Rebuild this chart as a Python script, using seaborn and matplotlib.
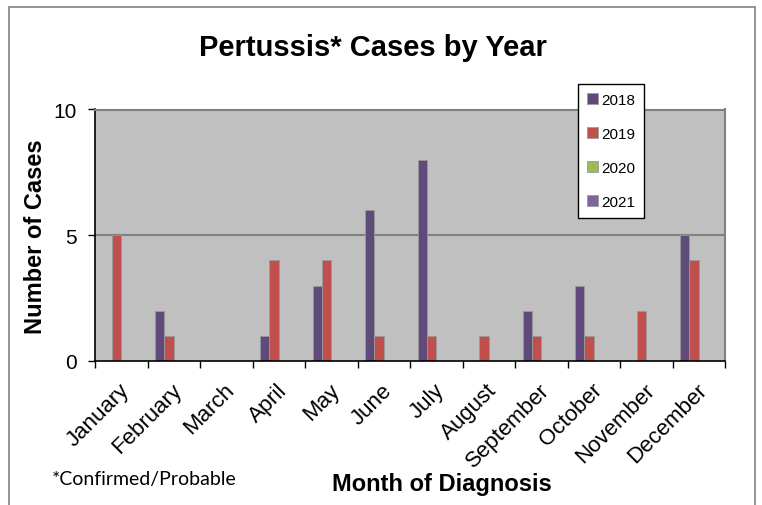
import matplotlib
matplotlib.use("Agg")
import matplotlib.pyplot as plt
import matplotlib.patches as mpatches
import seaborn as sns
import pandas as pd

months = ["January", "February", "March", "April", "May", "June", "July",
          "August", "September", "October", "November", "December"]
years = ["2018", "2019", "2020", "2021"]
cases_2018 = [0, 2, 0, 1, 3, 6, 8, 0, 2, 3, 0, 5]
cases_2019 = [5, 1, 0, 4, 4, 1, 1, 1, 1, 1, 2, 4]
cases_2020 = [0, 0, 0, 0, 0, 0, 0, 0, 0, 0, 0, 0]
cases_2021 = [0, 0, 0, 0, 0, 0, 0, 0, 0, 0, 0, 0]
colors = ["#604A7B", "#C0504D", "#9BBB59", "#8064A2"]

rows = []
for yr, vals in zip(years, [cases_2018, cases_2019, cases_2020, cases_2021]):
    for m, v in zip(months, vals):
        rows.append({"Month": m, "Year": yr, "Cases": v})
df = pd.DataFrame(rows)

sns.set_style("white")
plt.rcParams['font.family'] = ['Liberation Sans', 'DejaVu Sans']
plt.rcParams['text.color'] = 'black'
plt.rcParams['axes.labelcolor'] = 'black'
plt.rcParams['xtick.color'] = 'black'
plt.rcParams['ytick.color'] = 'black'

fig = plt.figure(figsize=(7.62, 5.06), dpi=100)
ax = fig.add_axes([95/762, 1-362/506, (725-95)/762, (362-110.5)/506])
ax.set_facecolor("#C0C0C0")

sns.barplot(data=df, x="Month", y="Cases", hue="Year", order=months,
            hue_order=years, palette=colors, width=0.71, ax=ax,
            edgecolor="#9a9a9a", linewidth=0.6, saturation=1, legend=True)

ax.set_ylim(0, 10)
ax.set_xlim(-0.5, 11.5)
ax.set_yticks([0, 5, 10])
ax.set_yticklabels(["0", "5", "10"], fontsize=15)
ax.set_xticks([i - 0.5 for i in range(13)], minor=False)
ax.set_xticklabels([""] * 13)
ax.tick_params(axis="x", which="major", direction="out", length=5, width=1, color="black", bottom=True)
ax.tick_params(axis="y", direction="out", length=5, width=1, color="black", left=True, pad=8)
for i, m in enumerate(months):
    ax.text(i - 0.04, -0.72, m, rotation=45, ha="right", va="top",
            rotation_mode="anchor", fontsize=16, transform=ax.transData)

ax.axhline(5, color="#808080", lw=1.5, zorder=0.5)
for s in ["top", "right"]:
    ax.spines[s].set_color("#808080")
    ax.spines[s].set_linewidth(1.5)
for s in ["left", "bottom"]:
    ax.spines[s].set_color("black")
    ax.spines[s].set_linewidth(1.2)

ax.set_xlabel("")
ax.set_ylabel("Number of Cases", fontsize=17, fontweight="bold")
ax.yaxis.set_label_coords(-0.076, 0.5)

handles, labels = ax.get_legend_handles_labels()
ax.legend(handles, labels, loc="upper left", bbox_to_anchor=(578/762, 1-85/506),
          bbox_transform=fig.transFigure, fontsize=11, frameon=True,
          fancybox=False, edgecolor="black", framealpha=1, facecolor="white",
          handlelength=0.7, handleheight=0.7, handletextpad=0.2,
          labelspacing=1.3, borderpad=0.6, borderaxespad=0)

fig.text(373/762, 1-48/506, "Pertussis* Cases by Year", ha="center", va="center",
         fontsize=21, fontweight="bold")
fig.text(442/762, 1-485/506, "Month of Diagnosis", ha="center", va="center",
         fontsize=17, fontweight="bold")
fig.text(52/762, 1-480/506, "*Confirmed/Probable", ha="left", va="center",
         fontsize=14, family=["Lato", "DejaVu Sans"])

frame = mpatches.Rectangle((9/762, -0.05), (755-9)/762, 1.05 - 8/506,
                           transform=fig.transFigure, fill=False,
                           edgecolor="#808080", lw=1.2)
fig.patches.append(frame)

fig.savefig("out.png", dpi=100)
